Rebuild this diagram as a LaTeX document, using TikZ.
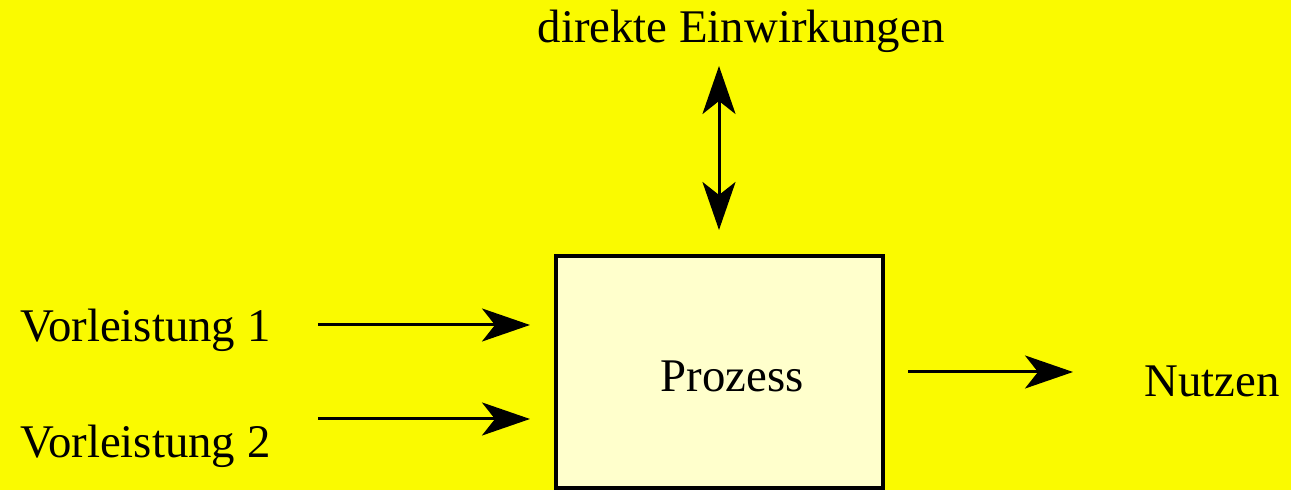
\documentclass[tikz,border=0pt]{standalone}
\usepackage{fontspec}
\setmainfont{Liberation Serif}
\usetikzlibrary{arrows.meta}
\definecolor{bgyellow}{RGB}{250,250,0}
\definecolor{boxfill}{RGB}{255,255,204}

\begin{document}
\begin{tikzpicture}[x=0.5pt,y=-0.5pt,
    every node/.style={font=\fontsize{23.4}{28}\selectfont,inner sep=0pt},
    tip/.tip={Stealth[length=24pt,width=16.5pt,inset=6.5pt]},
    flow/.style={line width=1.5pt,-tip},
    twoway/.style={line width=1.5pt,tip-tip},
    procbox/.style={draw,line width=2pt,fill=boxfill,minimum width=163.5pt,minimum height=116pt}]
      \fill[bgyellow] (0,0) rectangle (1291,490);
      \useasboundingbox (0,0) rectangle (1291,490);
      % the process box and its label
      \node[procbox] (prozess) at (719.5,372) {};
      \node[anchor=base] (plabel) at (732,392) {Prozess};
      % texts around it
      \node[anchor=base] (einw) at (741,43) {direkte Einwirkungen};
      \node[anchor=base west] (v1) at (20,342) {Vorleistung 1};
      \node[anchor=base west] (v2) at (20,458) {Vorleistung 2};
      \node[anchor=base west] (nutzen) at (1144,397) {Nutzen};
      % arrow ends
      \coordinate (v1a) at (318,325);
      \coordinate (v1b) at (530,325);
      \coordinate (v2a) at (318,419);
      \coordinate (v2b) at (530,419);
      \coordinate (na) at (908,372);
      \coordinate (nb) at (1073,372);
      \coordinate (ea) at (719,66);
      \coordinate (eb) at (719,230);
      \draw[flow] (v1a) -- (v1b);
      \draw[flow] (v2a) -- (v2b);
      \draw[flow] (na) -- (nb);
      \draw[twoway] (ea) -- (eb);
    \end{tikzpicture}
\end{document}
